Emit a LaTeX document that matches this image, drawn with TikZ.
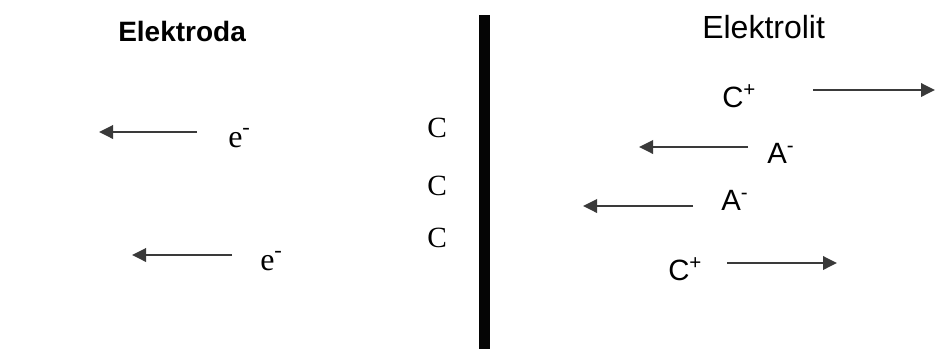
\documentclass[tikz,border=0pt]{standalone}
\usepackage{fontspec}
\setmainfont{Liberation Serif}
\setsansfont{Liberation Sans}
\usepackage{xcolor}
\usetikzlibrary{arrows.meta}
\definecolor{barblack}{HTML}{050505}
\definecolor{arrowgrey}{HTML}{3A3A3A}
\tikzset{
  title/.style ={font=\sffamily\fontsize{21}{24}\selectfont, inner sep=0pt, anchor=base west},
  ion/.style   ={font=\sffamily\fontsize{22}{26}\selectfont, inner sep=0pt, anchor=base west},
  charge/.style={font=\rmfamily\fontsize{22}{26}\selectfont, inner sep=0pt, anchor=base west},
  elec/.style  ={font=\rmfamily\fontsize{24}{28}\selectfont, inner sep=0pt, anchor=base west},
  flow/.style  ={-{Triangle[length=10.5pt,width=10pt]}, draw=arrowgrey, line width=1.8pt},
}

\begin{document}
\begin{tikzpicture}[x=0.75pt, y=-0.75pt]
\useasboundingbox (0,0) rectangle (936,351);

% ============================================ boundary
\coordinate (bartop) at (484.5,15);
\coordinate (barbot) at (484.5,349);
\draw[barblack, line width=8pt] (bartop) -- (barbot);

% ============================================ electrode side
\node[title, font=\sffamily\bfseries\fontsize{21}{24}\selectfont] (elektroda) at (118,41) {Elektroda};

\node[charge] (c1) at (427,137) {C};
\node[charge] (c2) at (427,195) {C};
\node[charge] (c3) at (427,247) {C};

\node[elec] (e1) at (228,147) {e\textsuperscript{-}};
\node[elec] (e2) at (260,270) {e\textsuperscript{-}};

\coordinate (e1from) at (197,132);
\coordinate (e1to)   at (99,132);
\coordinate (e2from) at (232,255);
\coordinate (e2to)   at (132,255);
\draw[flow] (e1from) -- (e1to);
\draw[flow] (e2from) -- (e2to);

% ============================================ electrolyte side
\node[title, font=\sffamily\fontsize{24}{28}\selectfont] (elektrolit) at (702,38) {Elektrolit};

\node[ion] (cat1) at (722,107) {C\textsuperscript{+}};
\node[ion] (an1)  at (767,163) {A\textsuperscript{-}};
\node[ion] (an2)  at (721,210) {A\textsuperscript{-}};
\node[ion] (cat2) at (668,280) {C\textsuperscript{+}};

\coordinate (cat1from) at (813,90);
\coordinate (cat1to)   at (935,90);
\coordinate (an1from)  at (748,147);
\coordinate (an1to)    at (639,147);
\coordinate (an2from)  at (693,206);
\coordinate (an2to)    at (583,206);
\coordinate (cat2from) at (727,263);
\coordinate (cat2to)   at (837,263);
\draw[flow] (cat1from) -- (cat1to);
\draw[flow] (an1from) -- (an1to);
\draw[flow] (an2from) -- (an2to);
\draw[flow] (cat2from) -- (cat2to);

\end{tikzpicture}
\end{document}
